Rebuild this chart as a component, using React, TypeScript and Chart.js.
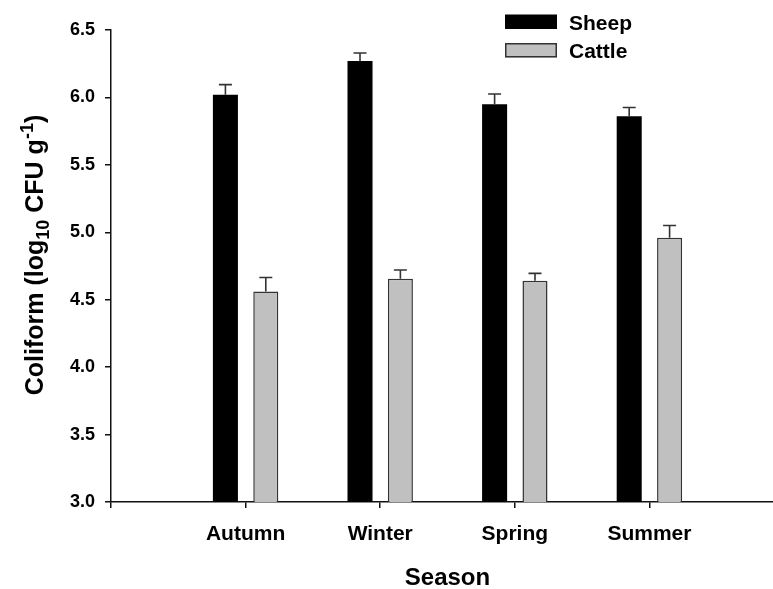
import React, { useEffect, useRef } from "react";
import { Chart, registerables } from "chart.js";

Chart.register(...registerables);

const categories = ["Autumn", "Winter", "Spring", "Summer"];
const sheepValues = [6.02, 6.27, 5.95, 5.86];
const sheepErrors = [0.075, 0.06, 0.075, 0.065];
const cattleValues = [4.56, 4.655, 4.64, 4.96];
const cattleErrors = [0.105, 0.065, 0.055, 0.09];
const seriesNames = ["Sheep", "Cattle"];
const yTicks = [3.0, 3.5, 4.0, 4.5, 5.0, 5.5, 6.0, 6.5];

const FONT = "'Liberation Sans', Arial, sans-serif";

const errorBarPlugin = {
  id: "errorBars",
  afterDatasetsDraw(chart: any) {
    const ctx = chart.ctx;
    const yScale = chart.scales.y;
    chart.data.datasets.forEach((ds: any, di: number) => {
      const meta = chart.getDatasetMeta(di);
      const errs: (number | null)[] = ds.errors;
      meta.data.forEach((el: any, i: number) => {
        const v = ds.data[i];
        const e = errs[i];
        if (v == null || e == null) return;
        const x = el.x;
        const yTop = yScale.getPixelForValue(v);
        const yErr = yScale.getPixelForValue(v + e);
        ctx.save();
        ctx.strokeStyle = "#333";
        ctx.lineWidth = 1.6;
        ctx.beginPath();
        ctx.moveTo(x, yTop);
        ctx.lineTo(x, yErr);
        ctx.moveTo(x - 6.5, yErr);
        ctx.lineTo(x + 6.5, yErr);
        ctx.stroke();
        ctx.restore();
      });
    });
  },
};

const decorPlugin = {
  id: "decor",
  afterDraw(chart: any) {
    const ctx = chart.ctx;
    const area = chart.chartArea;
    ctx.save();
    // Legend
    const boxes = [
      { fill: "#000000", stroke: "#000000", y: 14.5 },
      { fill: "#c0c0c0", stroke: "#333333", y: 43 },
    ];
    boxes.forEach((b, i) => {
      ctx.fillStyle = b.fill;
      ctx.fillRect(505, b.y, 52, 14.5);
      if (i === 1) {
        ctx.strokeStyle = b.stroke;
        ctx.lineWidth = 1.5;
        ctx.strokeRect(505.75, b.y + 0.75, 50.5, 13);
      }
      ctx.fillStyle = "#000";
      ctx.font = `bold 21px ${FONT}`;
      ctx.textAlign = "left";
      ctx.textBaseline = "alphabetic";
      ctx.fillText(seriesNames[i], 569, b.y + 15);
    });

    // X title
    ctx.font = `bold 24px ${FONT}`;
    ctx.textAlign = "center";
    ctx.textBaseline = "alphabetic";
    ctx.fillText("Season", (area.left + area.right) / 2, 585);

    // Y title with sub/superscripts
    const segs = [
      { t: "Coliform (log", s: 25, dy: 0 },
      { t: "10", s: 18, dy: 6 },
      { t: " CFU g", s: 25, dy: 0 },
      { t: "-1", s: 18, dy: -10 },
      { t: ")", s: 25, dy: 0 },
    ];
    let total = 0;
    segs.forEach((sg) => {
      ctx.font = `bold ${sg.s}px ${FONT}`;
      total += ctx.measureText(sg.t).width;
    });
    ctx.translate(43, 255);
    ctx.rotate(-Math.PI / 2);
    ctx.textAlign = "left";
    let x = -total / 2;
    segs.forEach((sg) => {
      ctx.font = `bold ${sg.s}px ${FONT}`;
      ctx.fillText(sg.t, x, sg.dy);
      x += ctx.measureText(sg.t).width;
    });
    ctx.restore();
  },
};

export default function App() {
  const ref = useRef<HTMLCanvasElement | null>(null);
  useEffect(() => {
    if (!ref.current) return;
    const labels = ["", ...categories, ""];
    const chart = new Chart(ref.current, {
      type: "bar",
      data: {
        labels,
        datasets: [
          {
            label: seriesNames[0],
            data: [null, ...sheepValues, null],
            errors: [null, ...sheepErrors, null],
            backgroundColor: "#000000",
            borderWidth: 0,
            categoryPercentage: 0.6,
            barPercentage: 0.62,
          } as any,
          {
            label: seriesNames[1],
            data: [null, ...cattleValues, null],
            errors: [null, ...cattleErrors, null],
            backgroundColor: "#c0c0c0",
            borderColor: "#333333",
            borderWidth: 1.5,
            borderSkipped: "start",
            categoryPercentage: 0.6,
            barPercentage: 0.62,
          } as any,
        ],
      },
      options: {
        responsive: false,
        animation: false,
        devicePixelRatio: 1,
        layout: { padding: { left: 0, right: 0, top: 30, bottom: 0 } },
        plugins: {
          legend: { display: false },
          tooltip: { enabled: false },
          title: { display: false },
        },
        scales: {
          x: {
            type: "category",
            offset: false,
            grid: {
              offset: false,
              drawOnChartArea: false,
              drawTicks: true,
              tickLength: 6,
              color: "#111",
              lineWidth: 1.5,
            },
            border: { display: true, color: "#111", width: 1.5 },
            ticks: {
              color: "#000",
              font: { family: FONT, size: 21, weight: "bold" },
              padding: 14,
              maxRotation: 0,
              autoSkip: false,
            },
            afterFit(scale: any) {
              scale.height = 87;
              scale.paddingLeft = 0;
              scale.paddingRight = 0;
            },
          },
          y: {
            type: "linear",
            min: 3.0,
            max: 6.5,
            afterBuildTicks(scale: any) {
              scale.ticks = yTicks.map((v) => ({ value: v }));
            },
            grid: {
              drawOnChartArea: false,
              drawTicks: true,
              tickLength: 6,
              color: "#111",
              lineWidth: 1.5,
            },
            border: { display: true, color: "#111", width: 1.5 },
            ticks: {
              color: "#000",
              font: { family: FONT, size: 18, weight: "bold" },
              padding: 10,
              callback: (v: any) => Number(v).toFixed(1),
            },
            afterFit(scale: any) {
              scale.width = 111;
            },
          },
        },
      } as any,
      plugins: [errorBarPlugin, decorPlugin],
    });
    return () => chart.destroy();
  }, []);
  return (
    <div
      style={{
        position: "absolute",
        left: 0,
        top: 0,
        width: 773,
        height: 589,
        overflow: "hidden",
        background: "#fff",
      }}
    >
      <canvas ref={ref} width={784} height={589} style={{ width: 784, height: 589, display: "block" }} />
    </div>
  );
}
